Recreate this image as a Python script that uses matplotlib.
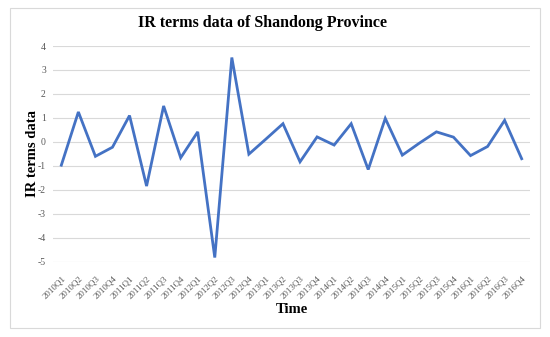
import numpy as np
import matplotlib
matplotlib.use("Agg")
import matplotlib.pyplot as plt
from matplotlib.patches import Rectangle

# quarterly IR terms values, 2010Q1 .. 2016Q4
quarters = [f"{y}Q{q}" for y in range(2010, 2017) for q in range(1, 5)]
ir_values = [-0.97, 1.25, -0.60, -0.22, 1.10, -1.84, 1.50, -0.66,
             0.42, -4.82, 3.52, -0.51, 0.12, 0.76, -0.83, 0.21,
             -0.13, 0.76, -1.15, 0.98, -0.55, -0.05, 0.42, 0.20,
             -0.57, -0.19, 0.90, -0.70]
y_ticks = list(range(-5, 5))

plt.rcParams["font.family"] = ["Liberation Serif", "DejaVu Serif"]

fig = plt.figure(figsize=(5.5, 3.37), dpi=100)
ax = fig.add_axes([0.096, 0.223, 0.868, 0.6405])

x = np.arange(len(quarters))
ax.plot(x, ir_values, color="#4472C4", linewidth=2.0, solid_joinstyle="miter")

ax.set_xlim(-0.5, len(quarters) - 0.5)
ax.set_ylim(-5, 4)
ax.set_yticks(y_ticks)
ax.set_yticklabels([str(v) for v in y_ticks], fontsize=7, color="#595959")
ax.set_xticks(x)
ax.set_xticklabels(quarters, rotation=45, ha="right", rotation_mode="anchor",
                   fontsize=6.5, color="#595959")
ax.tick_params(axis="y", length=0, pad=5)
ax.tick_params(axis="x", length=0, pad=9)
ax.grid(axis="y", color="#D9D9D9", linewidth=0.8)
ax.set_axisbelow(True)
for s in ax.spines.values():
    s.set_visible(False)

ax.set_ylabel("IR terms data", fontsize=10.5, fontweight="bold", labelpad=-1)
ax.set_xlabel("Time", fontsize=10.5, fontweight="bold", labelpad=2)
fig.text(0.478, 0.933, "IR terms data of Shandong Province", ha="center", va="center",
         fontsize=11.5, fontweight="bold")

# chart-area border
fig.patches.append(Rectangle((0.018, 0.027), 0.964, 0.949, transform=fig.transFigure,
                             fill=False, edgecolor="#D9D9D9", linewidth=0.8))

fig.savefig("out.png", dpi=100)
